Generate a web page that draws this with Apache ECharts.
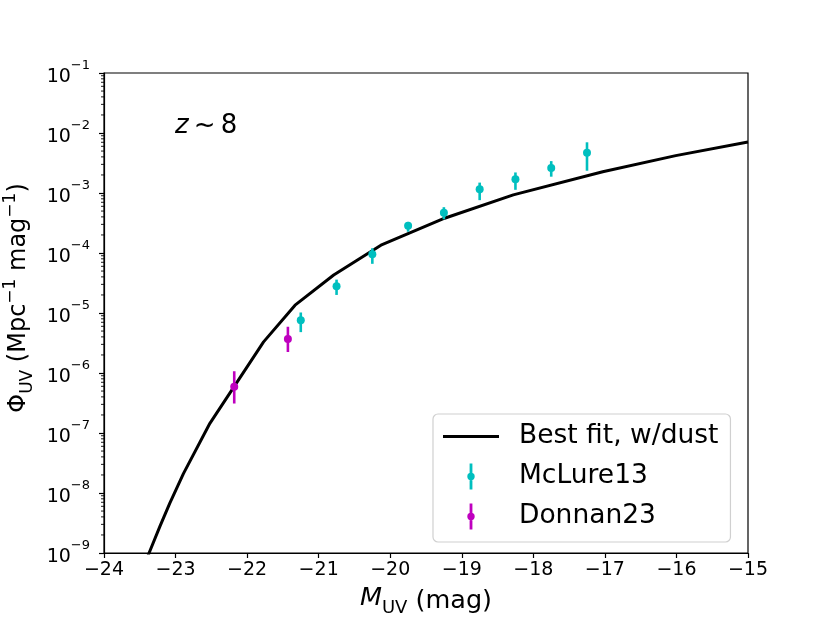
<!DOCTYPE html>
<html>
<head>
<meta charset="utf-8">
<script src="https://cdn.jsdelivr.net/npm/echarts@6/dist/echarts.min.js"></script>
<style>
  html, body { margin: 0; padding: 0; background: #fff; }
  #chart { width: 830px; height: 623px; }
</style>
</head>
<body>
<div id="chart"></div>
<script>
// best fit curve (M_UV, Phi)
const fitM   = [-23.45, -23.37, -23.22, -23.08, -22.89, -22.52, -21.77, -21.33, -20.79, -20.13, -19.24, -18.28, -17.03, -16.01, -15.0];
const fitPhi = [5.6e-10, 1.0e-9, 2.75e-9, 6.8e-9, 2.1e-8, 1.45e-7, 3.3e-6, 1.35e-5, 4.3e-5, 1.35e-4, 3.8e-4, 9.3e-4, 2.26e-3, 4.2e-3, 7.1e-3];

// McLure13
const mclM    = [-21.25, -20.75, -20.25, -19.75, -19.25, -18.75, -18.25, -17.75, -17.25];
const mclPhi  = [7.6e-6, 2.8e-5, 9.5e-5, 2.85e-4, 4.7e-4, 1.15e-3, 1.7e-3, 2.6e-3, 4.7e-3];
const mclLo   = [4.8e-6, 2.0e-5, 6.6e-5, 2.26e-4, 3.65e-4, 7.6e-4, 1.13e-3, 1.87e-3, 2.35e-3];
const mclHi   = [1.02e-5, 3.6e-5, 1.2e-4, 3.3e-4, 5.8e-4, 1.49e-3, 2.2e-3, 3.4e-3, 7.0e-3];

// Donnan23
const donM    = [-22.18, -21.43];
const donPhi  = [5.9e-7, 3.7e-6];
const donLo   = [3.1e-7, 2.24e-6];
const donHi   = [1.07e-6, 5.9e-6];

const xTicks = [-24, -23, -22, -21, -20, -19, -18, -17, -16, -15];
const yExps  = [-9, -8, -7, -6, -5, -4, -3, -2, -1];

const CYAN = '#00bfbf';
const MAGENTA = '#bf00bf';
const FONT = 'DejaVu Sans';

// minor log ticks 2..9 x 10^k
const minorVals = [];
for (let e = -9; e < -1; e++) {
  for (let m = 2; m <= 9; m++) minorVals.push(m * Math.pow(10, e));
}

const zip = (a, b) => a.map((v, i) => [v, b[i]]);
const errData = (m, lo, hi) => m.map((v, i) => [v, lo[i], hi[i]]);

function errorBars(color) {
  return function (params, api) {
    const p1 = api.coord([api.value(0), api.value(1)]);
    const p2 = api.coord([api.value(0), api.value(2)]);
    return {
      type: 'line',
      shape: { x1: p1[0], y1: p1[1], x2: p2[0], y2: p2[1] },
      style: { stroke: color, lineWidth: 2.6 }
    };
  };
}

const chart = echarts.init(document.getElementById('chart'));

const supRich = {
  b: { fontFamily: FONT, fontSize: 19, color: '#000', lineHeight: 28, verticalAlign: 'bottom' },
  s: { fontFamily: FONT, fontSize: 13, color: '#000', lineHeight: 28, verticalAlign: 'top' }
};

const errIcon = 'path://M3.6,0H6.4V26H3.6Z M5,9.3A3.7,3.7 0 1 1 4.99,9.3Z';

chart.setOption({
  animation: false,
  backgroundColor: '#fff',
  textStyle: { fontFamily: FONT },
  grid: {
    left: 104, right: 82, top: 73, bottom: 70,
    outerBoundsMode: 'none',
    containLabel: false,
    show: true, borderColor: '#000', borderWidth: 1.2, backgroundColor: 'transparent'
  },
  graphic: [{
    type: 'text',
    left: 175, top: 113,
    style: {
      text: '{i|z}\u2009~\u20098',
      fontFamily: FONT, fontSize: 26, fill: '#000',
      rich: { i: { fontFamily: FONT, fontSize: 26, fontStyle: 'italic' } }
    }
  }],
  legend: {
    orient: 'vertical',
    left: 433, top: 414,
    padding: [9, 12, 12, 10],
    itemWidth: 56, itemHeight: 26, itemGap: 13,
    backgroundColor: '#fff',
    borderColor: '#d0d0d0', borderWidth: 1.2, borderRadius: 5,
    symbolKeepAspect: true,
    textStyle: { fontFamily: FONT, fontSize: 26.5, color: '#000', padding: [0, 0, 0, 15] },
    data: [
      { name: 'Best fit, w/dust', icon: 'path://M0,0H56V3H0Z', itemStyle: { color: '#000' } },
      { name: 'McLure13', icon: errIcon, itemStyle: { color: CYAN } },
      { name: 'Donnan23', icon: errIcon, itemStyle: { color: MAGENTA } }
    ]
  },
  xAxis: {
    type: 'value',
    min: -24, max: -15, interval: 1,
    name: '{i|M}{sub|UV} (mag)',
    nameLocation: 'middle', nameGap: 31,
    nameTextStyle: {
      fontFamily: FONT, fontSize: 25.5, color: '#000',
      rich: {
        i: { fontFamily: FONT, fontSize: 25.5, fontStyle: 'italic', lineHeight: 32, verticalAlign: 'top' },
        sub: { fontFamily: FONT, fontSize: 18, lineHeight: 32, verticalAlign: 'bottom' }
      }
    },
    axisLine: { show: true, lineStyle: { color: '#000', width: 1.2 } },
    axisTick: { show: true, length: 5, lineStyle: { color: '#000', width: 1.2 } },
    axisLabel: {
      color: '#000', fontFamily: FONT, fontSize: 19, margin: 8,
      formatter: v => xTicks.includes(v) ? String(v).replace('-', '\u2212') : ''
    },
    splitLine: { show: false }
  },
  yAxis: {
    type: 'log', logBase: 10,
    min: 1e-9, max: 1e-1, interval: 1,
    name: 'Φ{sub|UV} (Mpc{sup|−1} mag{sup|−1})',
    nameLocation: 'middle', nameGap: 68, nameRotate: 90,
    nameTextStyle: {
      fontFamily: FONT, fontSize: 24, color: '#000', lineHeight: 34, verticalAlign: 'middle',
      padding: [0, 0, 0, 30],
      rich: {
        sub: { fontFamily: FONT, fontSize: 17, lineHeight: 34, verticalAlign: 'bottom' },
        sup: { fontFamily: FONT, fontSize: 17, lineHeight: 34, verticalAlign: 'top' }
      }
    },
    axisLine: { show: true, lineStyle: { color: '#000', width: 1.2 } },
    axisTick: { show: true, length: 5, lineStyle: { color: '#000', width: 1.2 } },
    axisLabel: {
      margin: 14,
      formatter: v => {
        const e = Math.round(Math.log10(v));
        return yExps.includes(e) ? '{b|10}{s|\u2212' + Math.abs(e) + '}' : '';
      },
      rich: supRich
    },
    splitLine: { show: false }
  },
  series: [
    {
      name: 'minor',
      type: 'custom',
      silent: true,
      data: minorVals.map(v => [-24, v]),
      renderItem: (params, api) => {
        const p = api.coord([api.value(0), api.value(1)]);
        return {
          type: 'line',
          shape: { x1: p[0], y1: p[1], x2: p[0] - 3, y2: p[1] },
          style: { stroke: '#000', lineWidth: 0.9 }
        };
      },
      clip: false,
      z: 1
    },
    {
      name: 'Best fit, w/dust',
      type: 'line',
      data: zip(fitM, fitPhi),
      showSymbol: false,
      symbol: 'none',
      clip: true,
      lineStyle: { color: '#000', width: 3 },
      itemStyle: { color: '#000' },
      z: 2
    },
    {
      name: 'McLure13',
      type: 'custom',
      data: errData(mclM, mclLo, mclHi),
      renderItem: errorBars(CYAN),
      itemStyle: { color: CYAN },
      z: 3
    },
    {
      name: 'McLure13',
      type: 'scatter',
      data: zip(mclM, mclPhi),
      symbol: 'circle', symbolSize: 8,
      itemStyle: { color: CYAN, opacity: 1 },
      z: 4
    },
    {
      name: 'Donnan23',
      type: 'custom',
      data: errData(donM, donLo, donHi),
      renderItem: errorBars(MAGENTA),
      itemStyle: { color: MAGENTA },
      z: 3
    },
    {
      name: 'Donnan23',
      type: 'scatter',
      data: zip(donM, donPhi),
      symbol: 'circle', symbolSize: 8,
      itemStyle: { color: MAGENTA, opacity: 1 },
      z: 4
    }
  ]
});
</script>
</body>
</html>
